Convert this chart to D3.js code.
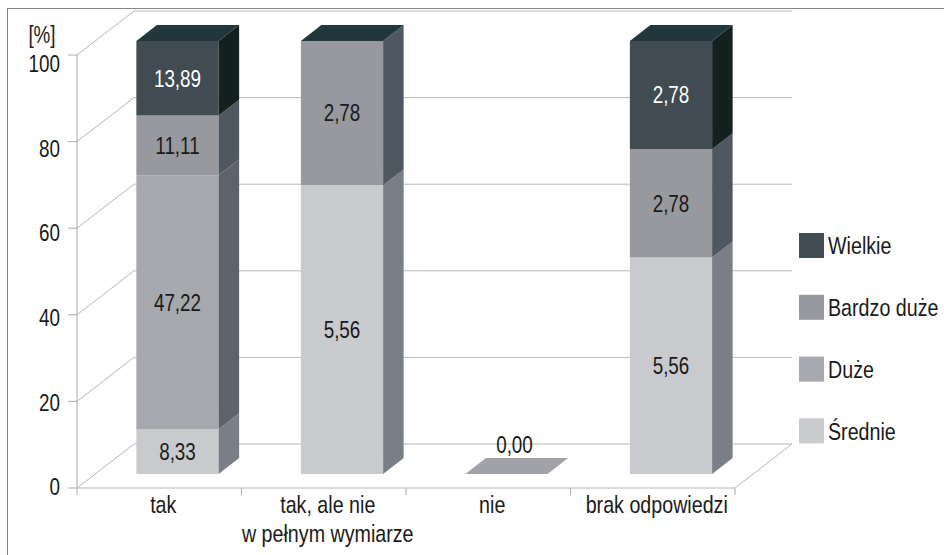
<!DOCTYPE html>
<html>
<head>
<meta charset="utf-8">
<script src="https://cdn.jsdelivr.net/npm/d3@7"></script>
<style>
  html, body { margin: 0; padding: 0; background: #fff; }
  svg { display: block; }
  text { font-family: "Liberation Sans", Arial, sans-serif; fill: #1a1a1a; }
</style>
</head>
<body>
<svg id="chart" width="944" height="555"></svg>
<script>
// Categories (multi-line axis labels) and the four stacked series, bottom to top.
const categories = ["tak", "tak, ale nie w pełnym wymiarze", "nie", "brak odpowiedzi"];
const categoryLines = [["tak"], ["tak, ale nie", "w pełnym wymiarze"], ["nie"], ["brak odpowiedzi"]];
const seriesNames = ["Średnie", "Duże", "Bardzo duże", "Wielkie"];
const srednie    = [8.33, 5.56, 0, 5.56];
const duze       = [47.22, null, null, null];
const bardzoDuze = [11.11, 2.78, null, 2.78];
const wielkie    = [13.89, null, null, 2.78];
const yTicks = [0, 20, 40, 60, 80, 100];
const legendOrder = ["Wielkie", "Bardzo duże", "Duże", "Średnie"];

// Face colours for each series.
const frontColor = {"Średnie": "#c9cacd", "Duże": "#a6a8ae", "Bardzo duże": "#97999f", "Wielkie": "#404b52"};
const sideColor  = {"Średnie": "#7a7e87", "Duże": "#5e626b", "Bardzo duże": "#4f5760", "Wielkie": "#14221f"};
const topColor   = {"Średnie": "#a0a2a8", "Duże": "#8c8f96", "Bardzo duże": "#7b7f87", "Wielkie": "#22373c"};
const labelColor = {"Średnie": "#1a1a1a", "Duże": "#1a1a1a", "Bardzo duże": "#1a1a1a", "Wielkie": "#ffffff"};

const seriesValues = [srednie, duze, bardzoDuze, wielkie];
const table = categories.map((c, i) => {
  const row = {category: c, index: i};
  seriesNames.forEach((s, k) => { row[s] = seriesValues[k][i]; });
  return row;
});

const svg = d3.select("#chart");
const NARROW = 0.82; // horizontal condensing of the sans face

// Condensed text placed at (px, py); lines are stacked with the given spacing.
function narrowText(parent, px, py, lines, size, anchor, color, lineGap) {
  const t = parent.append("text")
    .attr("transform", `translate(${px},${py}) scale(${NARROW},1)`)
    .attr("text-anchor", anchor).attr("font-size", size);
  if (color) t.style("fill", color);
  [].concat(lines).forEach((line, j) => {
    t.append("tspan").attr("x", 0).attr("dy", j === 0 ? 0 : lineGap).text(line);
  });
  return t;
}

// Outer frame
svg.append("rect").attr("x", 7.5).attr("y", 8.5).attr("width", 1000).attr("height", 1000)
  .attr("fill", "none").attr("stroke", "#858585").attr("stroke-width", 1);

// Front plane scales plus an oblique depth vector for the 3D look.
const x = d3.scaleBand().domain(categories).range([77, 735]).paddingInner(0.5).paddingOuter(0.25);
const y = d3.scaleLinear().domain([0, 100]).range([488, 55]);
const yLabel = d3.scaleLinear().domain([0, 100]).range([487, 63.5]);
const DX = 57, DY = -44;           // full floor depth
const F0 = 0.32, F1 = 0.68;        // bar front / back depth fractions
const P = (px, v, f) => [px + f * DX, y(v) + f * DY];
const poly = pts => pts.map(p => p.join(",")).join(" ");

const x0 = 77, x1 = 735;
const grid = svg.append("g").attr("stroke", "#b7b7bc").attr("stroke-width", 1).attr("fill", "none");
yTicks.forEach(t => {
  const a = P(x0, t, 0), b = P(x0, t, 1), c = P(x1, t, 1);
  grid.append("polyline").attr("points", poly([a, b, c]));
});
// Floor front edge and right side
grid.append("polyline").attr("points", poly([P(x0, 0, 0), P(x1, 0, 0), P(x1, 0, 1)]));

// Y axis line and ticks
const axis = svg.append("g").attr("stroke", "#a9a9ae").attr("stroke-width", 1);
axis.append("line").attr("x1", x0).attr("x2", x0).attr("y1", y(100)).attr("y2", y(0));
yTicks.forEach(t => {
  axis.append("line").attr("x1", 68).attr("x2", x0).attr("y1", y(t)).attr("y2", y(t));
});
// Category separators on the x axis
const step = x.step();
d3.range(categories.length + 1).forEach(i => {
  const px = x0 + i * step;
  axis.append("line").attr("x1", px).attr("x2", px).attr("y1", y(0)).attr("y2", y(0) + 7);
});

// Y tick labels
const yl = svg.append("g");
yTicks.forEach(t => narrowText(yl, 60, yLabel(t) + 8.3, String(t), 23, "end"));
narrowText(svg, 42, 43, "[%]", 23, "middle");

// Stack, normalised to 100%
const stack = d3.stack().keys(seriesNames)
  .value((d, k) => d[k] == null ? 0 : d[k])
  .offset(d3.stackOffsetExpand);
const layers = stack(table);

const bars = svg.append("g");
const labels = svg.append("g");
table.forEach((row, i) => {
  const bx0 = x(row.category), bx1 = bx0 + x.bandwidth();
  const g = bars.append("g");
  const total = seriesNames.reduce((s, k) => s + (row[k] || 0), 0);
  layers.forEach(layer => {
    const key = layer.key;
    if (row[key] == null) return;
    const v0 = layer[i][0] * 100, v1 = layer[i][1] * 100;
    if (v1 > v0) {
      g.append("polygon").attr("fill", frontColor[key])
        .attr("points", poly([P(bx0, v0, F0), P(bx1, v0, F0), P(bx1, v1, F0), P(bx0, v1, F0)]));
      g.append("polygon").attr("fill", sideColor[key])
        .attr("points", poly([P(bx1, v0, F0), P(bx1, v0, F1), P(bx1, v1, F1), P(bx1, v1, F0)]));
    }
  });
  // Lid of the column
  const topV = total > 0 ? 100 : 0;
  const lidKey = total > 0 ? seriesNames[seriesNames.length - 1] : seriesNames.find(k => row[k] != null);
  g.append("polygon").attr("fill", topColor[lidKey])
    .attr("points", poly([P(bx0, topV, F0), P(bx1, topV, F0), P(bx1, topV, F1), P(bx0, topV, F1)]));

  // Value labels, centred on each segment's front face
  layers.forEach(layer => {
    const key = layer.key;
    if (row[key] == null) return;
    const v0 = layer[i][0] * 100, v1 = layer[i][1] * 100;
    const cx = (bx0 + bx1) / 2 + F0 * DX;
    let ty, tx = cx;
    if (v1 > v0) {
      ty = (y(v0) + y(v1)) / 2 + F0 * DY + 8.3;
    } else {
      ty = y(v0) + F0 * DY - 21;
      tx = cx + 8;
    }
    narrowText(labels, tx, ty, d3.format(".2f")(row[key]).replace(".", ","), 23, "middle", labelColor[key]);
  });
});

// Category labels
const cat = svg.append("g");
categories.forEach((c, i) => {
  narrowText(cat, x(c) + x.bandwidth() / 2 + 4, 513, categoryLines[i], 24, "middle", null, 29);
});

// Legend
const legend = svg.append("g");
legendOrder.forEach((name, i) => {
  const cy = 245.5 + i * 61.8;
  legend.append("rect").attr("x", 799).attr("y", cy - 12.5).attr("width", 25).attr("height", 25)
    .attr("fill", frontColor[name]);
  narrowText(legend, 828, cy + 8.7, name, 24, "start");
});
</script>
</body>
</html>
